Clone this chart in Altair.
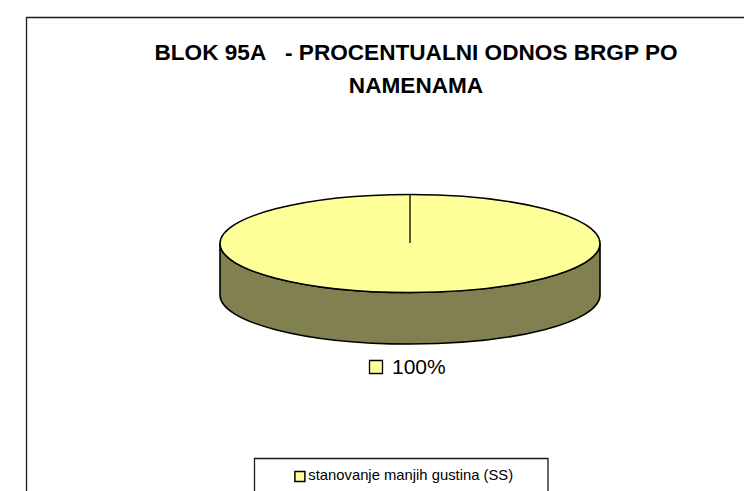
import altair as alt
import pandas as pd

categories = ["stanovanje manjih gustina (SS)"]
shares = [100]
share_labels = ["100%"]
title_lines = ["BLOK 95A\u00a0\u00a0\u00a0- PROCENTUALNI ODNOS BRGP PO", "NAMENAMA"]

df = pd.DataFrame({"namena": categories, "udeo": shares, "oznaka": share_labels})
base = alt.Chart(df)

TOP = "#FFFF99"
SIDE = "#808050"
INK = "#000000"
# unit shapes for the pie disc: half width = 1
k = 0.5523
ry = 0.258
d = 0.271
top_path = (f"M-1 0C-1 {-ry*k} {-k} {-ry} 0 {-ry}C{k} {-ry} 1 {-ry*k} 1 0"
            f"C1 {ry*k} {k} {ry} 0 {ry}C{-k} {ry} -1 {ry*k} -1 0Z")
side_path = (f"M-1 0C-1 {ry*k} {-k} {ry} 0 {ry}C{k} {ry} 1 {ry*k} 1 0L1 {d}"
             f"C1 {d+ry*k} {k} {d+ry} 0 {d+ry}C{-k} {d+ry} -1 {d+ry*k} -1 {d}Z")
pie_size = 380 ** 2

frame = base.mark_rect(fill="white", stroke="#1a1a1a", strokeWidth=1.3).encode(
    x=alt.value(18.5), x2=alt.value(800), y=alt.value(9.5), y2=alt.value(700))
side = base.mark_point(shape=side_path, size=pie_size, filled=True, fill=SIDE, fillOpacity=1,
                       stroke=INK, strokeWidth=1.6, opacity=1).encode(
    x=alt.value(402), y=alt.value(235.5))
pie = base.mark_point(shape=top_path, size=pie_size, filled=True, fill=TOP, fillOpacity=1,
                      stroke=INK, strokeWidth=1.6, opacity=1).encode(
    x=alt.value(402), y=alt.value(235.5))
radius = base.mark_rule(color=INK, strokeWidth=1.3).encode(
    x=alt.value(402), y=alt.value(186.5), y2=alt.value(235))
key = base.mark_point(shape="square", size=169, filled=True, fill=TOP, fillOpacity=1,
                      stroke=INK, strokeWidth=1.3, opacity=1).encode(
    x=alt.value(368), y=alt.value(359))
label = base.mark_text(font="Liberation Sans", fontSize=21, align="left", baseline="middle", color=INK).encode(
    x=alt.value(384), y=alt.value(360), text="oznaka:N")
box = base.mark_rect(fill="white", stroke="#1a1a1a", strokeWidth=1.3).encode(
    x=alt.value(246.5), x2=alt.value(540), y=alt.value(450.5), y2=alt.value(700))
entry = base.mark_point(shape="square", size=0.001, filled=True, opacity=0).encode(
    color=alt.Color("namena:N", scale=alt.Scale(range=[TOP]), legend=alt.Legend(
        orient="none", legendX=284.5, legendY=461, title=None,
        symbolType="square", symbolSize=100, symbolStrokeColor=INK, symbolStrokeWidth=1.5,
        symbolFillColor=TOP, symbolOpacity=1, labelFont="Liberation Sans", labelFontSize=14.8, labelColor=INK,
        labelLimit=300, labelOffset=1, padding=0)))

chart = alt.layer(frame, side, pie, radius, key, label, box, entry).properties(
    width=736, height=483, padding=0,
    autosize=alt.AutoSizeParams(type="none"),
    background="white",
    title=alt.TitleParams(text=title_lines, font="Liberation Sans", fontWeight="bold", fontSize=22.6,
                          color=INK, anchor="start", frame="group", orient="top", baseline="top",
                          align="center", dx=408, offset=-89.5, lineHeight=33),
).configure_view(stroke=None)

chart.save("out.html", embed_options={"renderer": "svg", "actions": False})
